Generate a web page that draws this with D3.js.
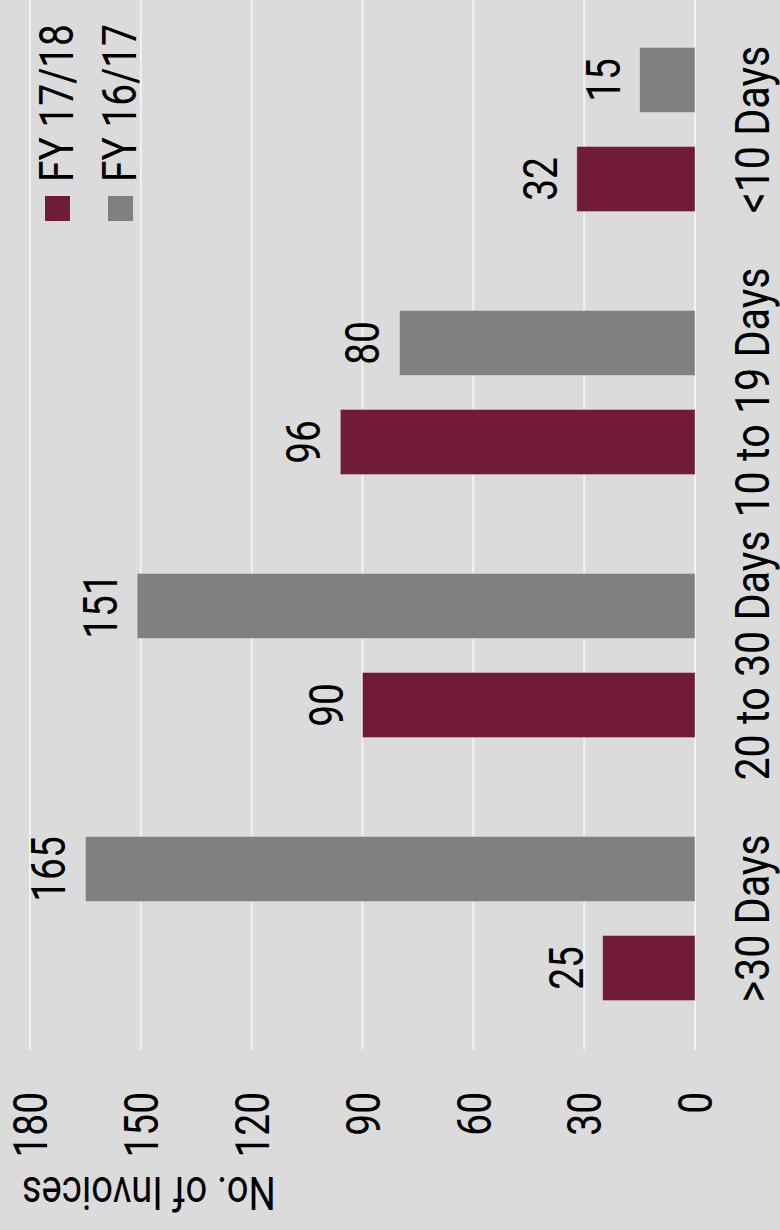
<!DOCTYPE html>
<html>
<head>
<meta charset="utf-8">
<script src="https://cdn.jsdelivr.net/npm/d3@7"></script>
<style>
  html, body { margin: 0; padding: 0; background: #dbdbdb; }
  svg { display: block; }
  text { font-family: Roboto, "Noto Sans", sans-serif; fill: #000; }
</style>
</head>
<body>
<svg id="chart" width="780" height="1230"></svg>
<script>
// Invoice payment timing, two financial years
const categories = [">30 Days", "20 to 30 Days", "10 to 19 Days", "<10 Days"];
const seriesNames = ["FY 17/18", "FY 16/17"];
const fy1718 = [25, 90, 96, 32];
const fy1617 = [165, 151, 80, 15];
const yTicks = [0, 30, 60, 90, 120, 150, 180];
const yTitle = "No. of Invoices";

const colors = { "FY 17/18": "#701c36", "FY 16/17": "#808080" };

// Horizontal squeeze that gives the regular face a condensed look
const NARROW = 0.81;

// The chart is laid out as an ordinary column chart in a 1230 x 780 frame,
// then turned a quarter turn counter-clockwise onto the 780 x 1230 page.
const W = 1230, H = 780;
const svg = d3.select("#chart");
svg.append("rect").attr("width", 780).attr("height", 1230).attr("fill", "#dbdbdb");
const g = svg.append("g").attr("transform", `translate(0,${W}) rotate(-90)`);

const plot = { left: 180, right: 1232, top: 30, bottom: 695 };

const x0 = d3.scaleBand()
  .domain(categories)
  .range([plot.left, plot.right])
  .paddingInner(0.376)
  .paddingOuter(0.188);

const x1 = d3.scaleBand()
  .domain(seriesNames)
  .range([0, x0.bandwidth()])
  .paddingInner(0.343)
  .paddingOuter(0);

const y = d3.scaleLinear().domain([0, 180]).range([plot.bottom, plot.top]);

const squeeze = (px, py, k = NARROW) => `translate(${px},${py}) scale(${k},1)`;

// Gridlines
g.append("g")
  .selectAll("line")
  .data(yTicks)
  .join("line")
  .attr("x1", plot.left)
  .attr("x2", W)
  .attr("y1", d => y(d))
  .attr("y2", d => y(d))
  .attr("stroke", "#f2f2f2")
  .attr("stroke-width", 2);

// Value axis labels
g.append("g")
  .selectAll("text")
  .data(yTicks)
  .join("text")
  .attr("transform", d => squeeze(138, y(d)))
  .attr("dy", "0.36em")
  .attr("text-anchor", "end")
  .attr("font-size", 48)
  .text(d => d);

// Axis title
g.append("text")
  .attr("transform", `translate(53,22) rotate(-90) scale(0.83,1)`)
  .attr("text-anchor", "end")
  .attr("font-size", 46)
  .text(yTitle);

// Bars
const rows = categories.map((c, i) => ({
  category: c,
  values: [
    { series: "FY 17/18", value: fy1718[i] },
    { series: "FY 16/17", value: fy1617[i] }
  ]
}));

const groups = g.append("g")
  .selectAll("g")
  .data(rows)
  .join("g")
  .attr("transform", d => `translate(${x0(d.category)},0)`);

groups.selectAll("rect")
  .data(d => d.values)
  .join("rect")
  .attr("x", d => x1(d.series))
  .attr("width", x1.bandwidth())
  .attr("y", d => y(d.value))
  .attr("height", d => y(0) - y(d.value))
  .attr("fill", d => colors[d.series])
  .attr("stroke", "rgba(255,255,255,0.35)")
  .attr("stroke-width", 1);

groups.selectAll("text.value")
  .data(d => d.values)
  .join("text")
  .attr("class", "value")
  .attr("transform", d => squeeze(x1(d.series) + x1.bandwidth() / 2, y(d.value) - 20))
  .attr("text-anchor", "middle")
  .attr("font-size", 48)
  .text(d => d.value);

// Category labels
g.append("g")
  .selectAll("text")
  .data(categories)
  .join("text")
  .attr("transform", d => squeeze(x0(d) + x0.bandwidth() / 2, 769, 0.86))
  .attr("text-anchor", "middle")
  .attr("font-size", 48)
  .text(d => d);

// Legend
const legend = g.append("g")
  .selectAll("g")
  .data(seriesNames)
  .join("g")
  .attr("transform", (d, i) => `translate(1009,${45 + i * 63})`);

legend.append("rect")
  .attr("width", 25)
  .attr("height", 25)
  .attr("fill", d => colors[d]);

legend.append("text")
  .attr("transform", squeeze(39, 28))
  .attr("font-size", 48)
  .text(d => d);
</script>
</body>
</html>
